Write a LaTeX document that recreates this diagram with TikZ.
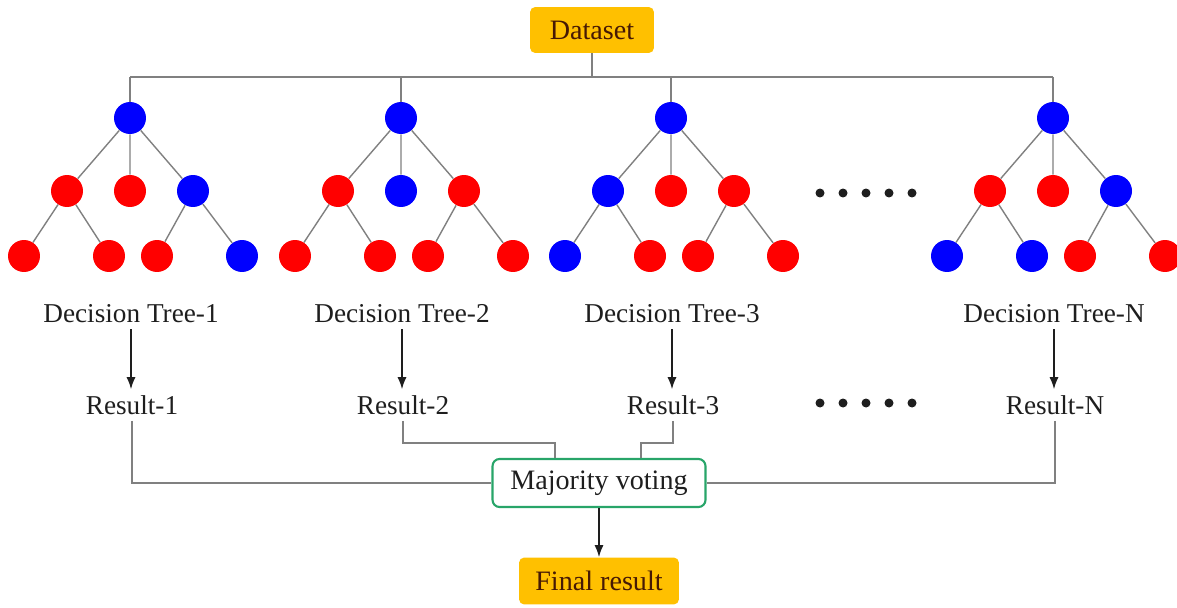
\documentclass[tikz,border=0pt]{standalone}
\usepackage{fontspec}
\setmainfont{Liberation Serif}
\usepackage{tikz}
\usetikzlibrary{positioning, arrows.meta, calc}
\definecolor{gold}{RGB}{255,192,0}
\definecolor{vgreen}{RGB}{40,165,105}
\definecolor{ink}{RGB}{30,30,30}
\definecolor{brownink}{RGB}{70,25,5}
\definecolor{wire}{RGB}{128,128,128}
\tikzset{
  vtx/.style={circle, fill=#1, minimum size=0.64cm, inner sep=0pt},
  lbl/.style={text=ink, font=\fontsize{15.5}{18}\selectfont},
  term/.style={fill=gold, rounded corners=3pt, text=brownink, align=center, font=\fontsize{16}{19}\selectfont},
  vote/.style={draw=vgreen, line width=1.2pt, rounded corners=4pt, fill=white, text=ink, align=center, font=\fontsize{16}{19}\selectfont},
  link/.style={draw=wire, line width=0.8pt},
  arr/.style={thick, ink, -{Latex[length=2.4mm, width=1.8mm]}}
}

\begin{document}
\begin{tikzpicture}[x=0.02cm, y=-0.02cm]
  \useasboundingbox (0,0) rectangle (1177,608);

  \node[term, minimum width=2.48cm, minimum height=0.92cm] (data) at (592,30) {Dataset};
  \coordinate (bus) at (0,77);

  \foreach \t/\x/\la/\lb/\lc/\ma/\mb/\mc/\md in {
      1/130/red/red/blue/red/red/red/blue,
      2/401/red/blue/red/red/red/red/red,
      3/671/blue/red/red/blue/red/red/red,
      N/1053/red/red/blue/blue/blue/red/red} {
    \node[vtx=blue] (T\t-r) at (\x,118) {};
    \node[vtx=\la] (T\t-a) at (\x-63,191) {};
    \node[vtx=\lb] (T\t-b) at (\x,191) {};
    \node[vtx=\lc] (T\t-c) at (\x+63,191) {};
    \node[vtx=\ma] (T\t-aa) at (\x-106,256) {};
    \node[vtx=\mb] (T\t-ab) at (\x-21,256) {};
    \node[vtx=\mc] (T\t-ca) at (\x+27,256) {};
    \node[vtx=\md] (T\t-cb) at (\x+112,256) {};
    \draw[link] (T\t-r) -- (T\t-a) (T\t-r) -- (T\t-b) (T\t-r) -- (T\t-c)
      (T\t-a) -- (T\t-aa) (T\t-a) -- (T\t-ab) (T\t-c) -- (T\t-ca) (T\t-c) -- (T\t-cb);
    \draw[link] (T\t-r |- bus) -- (T\t-r);
    \node[lbl] (T\t-lab) at (\x+1,314) {Decision Tree-\t};
    \node[lbl] (T\t-res) at (\x+2,405) {Result-\t};
    \draw[arr] (T\t-lab) -- (T\t-lab |- T\t-res.north);
  }

  \draw[link] (T1-r |- bus) -- (TN-r |- bus);
  \draw[link] (data) -- (data |- bus);

  \foreach \k in {0,...,4} {
    \fill[ink] (820+23*\k,193) circle (0.09cm);
    \fill[ink] (820+23*\k,403) circle (0.09cm);
  }

  \node[vote, minimum width=4.26cm, minimum height=0.96cm] (vote) at (599,483) {Majority voting};
  \node[term, minimum width=3.2cm, minimum height=0.94cm] (final) at (599,581) {Final result};

  \coordinate (j2) at (555,443);
  \coordinate (j3) at (641,443);
  \draw[link] (T1-res.south) |- (vote.west);
  \draw[link] (TN-res.south) |- (vote.east);
  \draw[link] (T2-res.south) |- (j2) -- (j2 |- vote.north);
  \draw[link] (T3-res.south) |- (j3) -- (j3 |- vote.north);
  \draw[arr] (vote) -- (final);
\end{tikzpicture}
\end{document}
